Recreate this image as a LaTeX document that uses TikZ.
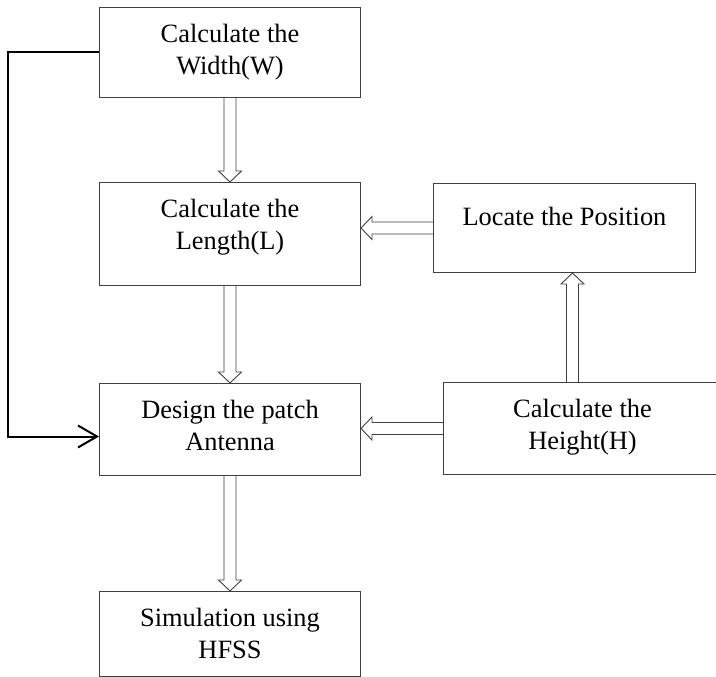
\documentclass[tikz,border=0pt]{standalone}
\usepackage{fontspec}
\setmainfont{Liberation Serif}
\usetikzlibrary{calc,arrows.meta}

\tikzset{
  box/.style={draw=black!75, line width=1pt, align=center, anchor=north west,
    minimum width=261pt, inner xsep=4pt, inner ysep=17pt, text height=50pt,
    font=\fontsize{26.4pt}{32pt}\selectfont},
  hollow/.style={draw=black!75, line width=0.9pt, line join=miter},
  feedback/.style={line width=2pt, -{Straight Barb[length=19pt,width=22pt]}}
}

% block arrow with an open head: #1 start, #2 tip
\newcommand{\hollowarrow}[2]{%
  \path ($(#2)!11pt!(#1)$) coordinate (hb);
  \draw[hollow] ($(#1)!6pt!90:(#2)$) -- ($(hb)!6pt!-90:(#1)$) -- ($(hb)!11.5pt!-90:(#1)$)
    -- (#2) -- ($(hb)!11.5pt!90:(#1)$) -- ($(hb)!6pt!90:(#1)$) -- ($(#1)!6pt!-90:(#2)$);}

\begin{document}
\begin{tikzpicture}[x=1pt,y=1pt]
\useasboundingbox (0,0) rectangle (716,-677);
% boxes
\node[box,text depth=6pt] (W) at (99,-7) {Calculate the\\Width(W)};
\node[box,text depth=19pt] (L) at (99,-182) {Calculate the\\Length(L)};
\node[box,text depth=8pt] (D) at (99,-383) {Design the patch\\Antenna};
\node[box,text depth=1pt] (S) at (99,-591) {Simulation using\\HFSS};
\node[box,minimum width=262pt,text height=25pt,text depth=30pt] (P) at (433,-183) {Locate the Position};
\node[box,minimum width=278pt,text depth=8pt] (H) at (443,-382) {Calculate the\\Height(H)};

% hollow block arrows
\hollowarrow{W.south}{L.north}
\hollowarrow{L.south}{D.north}
\hollowarrow{D.south}{S.north}
\coordinate (Le) at (P.west -| L.east);
\hollowarrow{P.west}{Le}
\coordinate (De) at (H.west -| D.east);
\hollowarrow{H.west}{De}
\coordinate (Hn) at ([xshift=-10pt]H.north);
\coordinate (Ps) at (Hn |- P.south);
\hollowarrow{Hn}{Ps}

% feedback line from width to design
\draw[feedback] (W.west) -- ++(-91,0) |- ([yshift=-7pt]D.west);
\end{tikzpicture}
\end{document}
